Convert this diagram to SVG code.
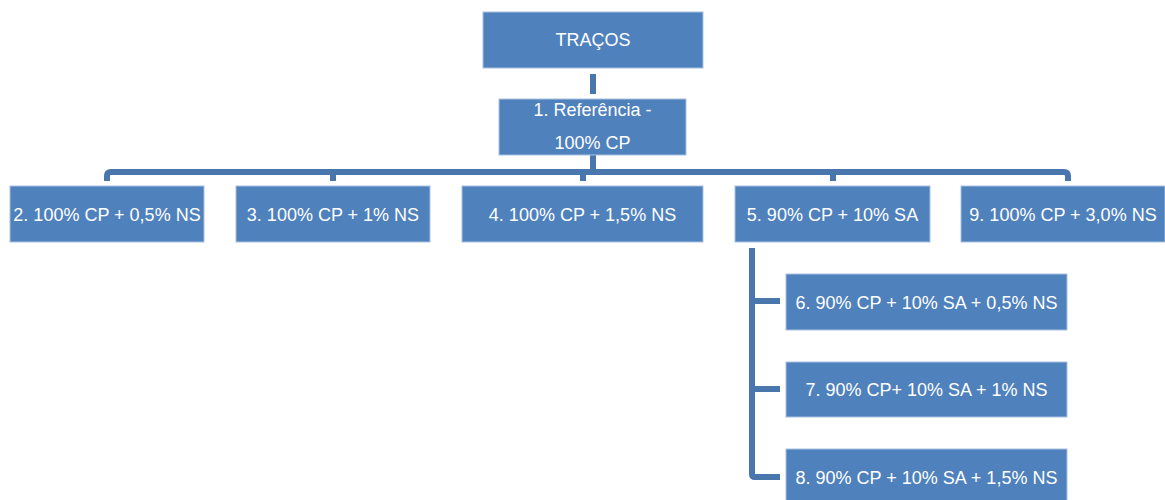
<svg xmlns="http://www.w3.org/2000/svg" width="1165" height="500" viewBox="0 0 1165 500">
<style>
.box{fill:#4F81BD;stroke:#A9C1E0;stroke-width:1}
.lbl{font-family:"Liberation Sans",Arial,sans-serif;font-size:18px;fill:#FFFFFF;text-anchor:middle}
.con{fill:none;stroke:#4A76AE;stroke-width:6;stroke-linejoin:round}
</style>
<rect width="1165" height="500" fill="#FFFFFF"/>
<g id="connectors">
<path class="con" d="M593 74 V94"/>
<path class="con" d="M593 155 V172"/>
<path class="con" d="M107 181 V176 Q107 172 111 172 H1064 Q1068 172 1068 176 V181"/>
<path class="con" d="M333 172 V181 M583 172 V181 M833 172 V181"/>
<path class="con" d="M780 301 H752 M752 248 V474 Q752 477 755 477 H780 M752 389 H780"/>
</g>
<g id="n0"><rect class="box" x="483" y="12" width="220" height="56"/><text class="lbl" x="593" y="46">TRAÇOS</text></g>
<g id="n1"><rect class="box" x="499" y="99" width="187" height="56"/><text class="lbl" x="592.5" y="116">1. Referência -</text><text class="lbl" x="592.5" y="149">100% CP</text></g>
<g id="n2"><rect class="box" x="10" y="186" width="194" height="56"/><text class="lbl" x="107" y="221">2. 100% CP + 0,5% NS</text></g>
<g id="n3"><rect class="box" x="236" y="186" width="194" height="56"/><text class="lbl" x="333" y="221">3. 100% CP + 1% NS</text></g>
<g id="n4"><rect class="box" x="462" y="186" width="241" height="56"/><text class="lbl" x="582.5" y="221">4. 100% CP + 1,5% NS</text></g>
<g id="n5"><rect class="box" x="735" y="186" width="195" height="56"/><text class="lbl" x="832.5" y="221">5. 90% CP + 10% SA</text></g>
<g id="n9"><rect class="box" x="961" y="186" width="204" height="56"/><text class="lbl" x="1063" y="221">9. 100% CP + 3,0% NS</text></g>
<g id="n6"><rect class="box" x="786" y="274" width="281" height="56"/><text class="lbl" x="926.5" y="308.5">6. 90% CP + 10% SA + 0,5% NS</text></g>
<g id="n7"><rect class="box" x="786" y="362" width="281" height="55"/><text class="lbl" x="926.5" y="395.5">7. 90% CP+ 10% SA + 1% NS</text></g>
<g id="n8"><rect class="box" x="786" y="449" width="281" height="56"/><text class="lbl" x="926.5" y="483.5">8. 90% CP + 10% SA + 1,5% NS</text></g>
</svg>
